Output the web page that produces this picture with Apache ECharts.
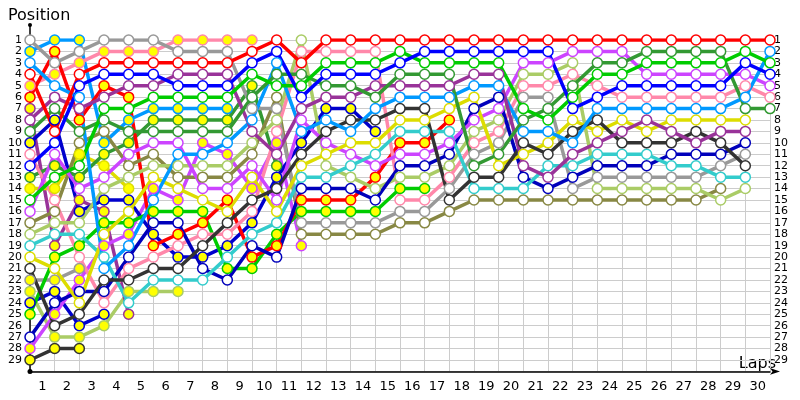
<!DOCTYPE html>
<html><head><meta charset="utf-8">
<script src="https://cdn.jsdelivr.net/npm/echarts@6/dist/echarts.min.js"></script>
<style>html,body{margin:0;padding:0;background:#fff}#c{width:800px;height:400px}</style>
</head><body><div id="c"></div>
<script>
const lapLabels = ['1','2','3','4','5','6','7','8','9','10','11','12','13','14','15','16','17','18','19','20','21','22','23','24','25','26','27','28','29','30'];
const positionTicks = [1,2,3,4,5,6,7,8,9,10,11,12,13,14,15,16,17,18,19,20,21,22,23,24,25,26,27,28,29];

// race position per lap (index 0 = start grid); finishers (white markers)
const redW    = [4,9,4,3,3,3,3,3,3,2,1,3,1,1,1,1,1,1,1,1,1,1,1,1,1,1,1,1,1,1,1];
const blueW   = [12,10,5,4,4,4,5,5,5,3,2,6,4,4,4,3,2,2,2,2,2,2,7,6,5,5,5,5,5,3,4];
const greenW  = [15,13,12,7,7,6,6,6,6,4,5,5,3,3,3,2,3,3,3,3,7,8,6,4,4,3,3,3,3,2,3];
const dgreenW = [9,7,9,8,9,9,9,9,9,6,4,4,5,5,6,4,4,4,12,11,8,7,5,3,3,2,2,2,2,7,7];
const purpleW = [8,6,7,6,5,5,4,4,4,9,11,7,6,6,5,5,5,5,4,4,12,13,11,10,9,8,9,10,9,9];
const lblueW  = [3,5,6,21,19,15,11,11,10,8,3,9,8,9,7,6,6,6,5,5,9,9,10,7,7,7,7,7,7,6,2];
const blackW  = [21,26,25,22,22,21,21,19,17,15,14,11,9,8,8,7,7,15,13,13,10,11,9,8,10,10,10,9,10,12];
const yellowW = [20,21,24,18,16,13,14,15,16,13,16,12,11,10,10,8,8,7,6,12,11,10,8,9,8,9,8,8,8,8];
const cyanW   = [19,18,18,20,24,22,22,22,20,18,17,13,13,12,11,9,9,9,14,14,14,12,12,11,11,11,12,12,13,13];
const violetW = [16,11,14,13,11,10,10,14,14,12,15,8,10,11,12,11,11,10,8,7,3,3,2,2,2,4,4,4,4,4,5];
const dblueW  = [27,24,23,23,20,17,17,21,22,19,20,14,14,14,15,12,12,11,7,6,13,14,13,12,12,12,11,11,11,10];
const lgreenW = [18,17,17,14,13,12,12,12,12,10,8,1,12,13,14,13,13,12,9,8,4,4,3,14,14,14,14,14,15,14];
const pinkW   = [11,15,20,24,21,20,19,18,18,16,9,2,2,2,2,15,15,13,10,9,5,5,4,5,6,6,6,6,6,5,6];
const greyW   = [1,3,2,1,1,1,2,2,2,7,7,17,17,17,17,16,16,14,11,10,6,6,14,13,13,13,13,13,12,11];
const oliveW  = [17,16,10,9,12,11,13,13,13,11,6,18,18,18,18,17,17,16,15,15,15,15,15,15,15,15,15,15,14];

// retired drivers (yellow markers)
const lblueY  = [2,1,1,10,8,7,7,7,7];
const pinkY   = [5,4,3,2,2,2,1,1,1,1];
const redY    = [6,2,8,5,6,19,18,17,15,20,19,15,15,15,13,10,10,8];
const purpleY = [7,19,15,16,25];
const blueY   = [10,8,16,15,15,18,20,20,19,17,13,10,7,7,9];
const dgreenY = [13,12,13,11,10,8,8,8,8,5,12];
const yellowY = [14,14,11,12,14];
const greyY   = [22,22,21];
const lgreenY = [23,27,27,26,23,23,23];
const dblueY  = [24,23,26,25];
const greenY  = [25,20,19,17,17,16,16,16,21,21,18,16,16,16,16,14,14];
const violetY = [28,25,22,19,18,14,15,10,11,14,10,19];
const blackY  = [29,28,28];

const drivers = [
  {d:greyY,c:'#999999',y:1},{d:blackY,c:'#333333',y:1},{d:dblueY,c:'#0000cc',y:1},{d:lgreenY,c:'#aacc66',y:1},
  {d:purpleY,c:'#993399',y:1},{d:yellowY,c:'#dddd00',y:1},{d:lblueY,c:'#0099ff',y:1},{d:pinkY,c:'#ff88aa',y:1},
  {d:dgreenY,c:'#339933',y:1},{d:violetY,c:'#cc44ff',y:1},{d:blueY,c:'#0000cc',y:1},{d:greenY,c:'#00cc00',y:1},
  {d:redY,c:'#ff0000',y:1},
  {d:oliveW,c:'#888844',y:0},{d:greyW,c:'#999999',y:0},{d:pinkW,c:'#ff88aa',y:0},{d:lgreenW,c:'#aacc66',y:0},
  {d:dblueW,c:'#0000bb',y:0},{d:violetW,c:'#cc44ff',y:0},{d:cyanW,c:'#33cccc',y:0},{d:yellowW,c:'#dddd00',y:0},
  {d:blackW,c:'#333333',y:0},{d:lblueW,c:'#0099ff',y:0},{d:purpleW,c:'#993399',y:0},{d:dgreenW,c:'#339933',y:0},
  {d:greenW,c:'#00cc00',y:0},{d:blueW,c:'#0000ff',y:0},{d:redW,c:'#ff0000',y:0}
];

const chart = echarts.init(document.getElementById('c'));
const font = 'Tahoma, "DejaVu Sans", sans-serif';
const series = drivers.map(dr => ({
  type:'line', xAxisIndex:1, yAxisIndex:0,
  data: dr.d.map((p,i)=>[i,p]),
  symbol:'circle', symbolSize:10, showSymbol:true,
  lineStyle:{color:dr.c, width:3.5},
  itemStyle:{color: dr.y ? '#ffff00' : '#ffffff', borderColor:dr.c, borderWidth:1.5},
  emphasis:{disabled:true}, animation:false, z:2
}));
chart.setOption({
  animation:false,
  grid:{left:30, right:30, top:40, bottom:28.6},
  xAxis:[
    {type:'category', data:lapLabels, boundaryGap:true, position:'bottom',
     axisLine:{lineStyle:{color:'#000', width:1.5}, symbol:['circle','arrow'], symbolSize:[5,10], symbolOffset:[0,10]},
     axisTick:{show:false},
     axisLabel:{color:'#000', fontSize:13, fontFamily:font, margin:9},
     splitLine:{show:true, lineStyle:{color:'#cccccc', width:1}}},
    {type:'value', min:0, max:30, show:false}
  ],
  yAxis:[
    {type:'value', inverse:true, min:1, max:30, interval:1, position:'left',
     axisLine:{show:true, lineStyle:{color:'#000', width:1.5}}, axisTick:{show:false},
     axisLabel:{color:'#000', fontSize:11, fontFamily:font, margin:8, formatter:v=>positionTicks.includes(v)?String(v):''},
     splitLine:{show:true, lineStyle:{color:'#cccccc', width:1}}},
    {type:'value', inverse:true, min:1, max:30, interval:1, position:'right',
     axisLine:{show:false}, axisTick:{show:false},
     axisLabel:{color:'#000', fontSize:11, fontFamily:font, margin:4, formatter:v=>positionTicks.includes(v)?String(v):''},
     splitLine:{show:false}}
  ],
  title:{text:'Position', left:3, top:3, textStyle:{fontSize:16, fontWeight:'normal', color:'#000', fontFamily:font}},
  graphic:[
    {type:'line', shape:{x1:30, y1:25, x2:30, y2:40}, style:{stroke:'#000', lineWidth:1.5}},
    {type:'circle', shape:{cx:30, cy:25, r:2}, style:{fill:'#000'}},
    {type:'text', right:24, top:356, style:{text:'Laps', fontSize:16, fill:'#000', fontFamily:font}}
  ],
  series
});
</script></body></html>
